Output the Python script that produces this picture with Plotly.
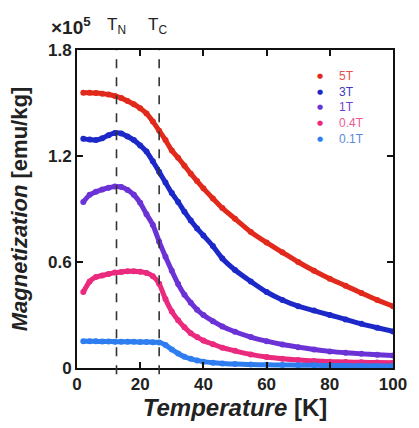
import plotly.graph_objects as go

temps = [2, 4, 6, 8, 10, 12, 14, 16, 18, 20, 22, 24, 26, 28, 30, 32, 34, 36, 38, 40,
         43, 46, 50, 55, 60, 65, 70, 75, 80, 85, 90, 95, 100]

m_5T = [1.558, 1.558, 1.556, 1.553, 1.548, 1.540, 1.528, 1.512, 1.493, 1.470, 1.440,
        1.395, 1.343, 1.290, 1.231, 1.190, 1.145, 1.100, 1.058, 1.017,
        0.960, 0.905, 0.845, 0.770, 0.710, 0.655, 0.600, 0.550, 0.505, 0.465, 0.425, 0.385, 0.350]
m_3T = [1.297, 1.293, 1.290, 1.300, 1.318, 1.330, 1.328, 1.310, 1.290, 1.260, 1.225,
        1.170, 1.110, 1.050, 0.990, 0.940, 0.885, 0.835, 0.790, 0.750,
        0.690, 0.620, 0.555, 0.490, 0.430, 0.385, 0.350, 0.325, 0.300, 0.275, 0.250, 0.228, 0.207]
m_1T = [0.940, 0.980, 0.998, 1.010, 1.020, 1.027, 1.025, 1.008, 0.980, 0.935, 0.870,
        0.810, 0.715, 0.630, 0.550, 0.475, 0.415, 0.370, 0.330, 0.300,
        0.265, 0.235, 0.205, 0.175, 0.152, 0.133, 0.118, 0.105, 0.094, 0.086, 0.080, 0.075, 0.071]
m_04T = [0.430, 0.490, 0.515, 0.524, 0.532, 0.540, 0.544, 0.547, 0.548, 0.545, 0.538,
         0.520, 0.477, 0.390, 0.320, 0.270, 0.230, 0.197, 0.175, 0.155,
         0.135, 0.115, 0.097, 0.077, 0.062, 0.052, 0.045, 0.040, 0.036, 0.034, 0.032, 0.031, 0.030]
m_01T = [0.151, 0.152, 0.151, 0.150, 0.150, 0.149, 0.149, 0.148, 0.148, 0.147, 0.147,
         0.146, 0.145, 0.130, 0.105, 0.082, 0.064, 0.052, 0.043, 0.036,
         0.030, 0.026, 0.022, 0.020, 0.018, 0.017, 0.016, 0.015, 0.014, 0.013, 0.013, 0.012, 0.012]

series_names = ["5T", "3T", "1T", "0.4T", "0.1T"]
series_values = [m_5T, m_3T, m_1T, m_04T, m_01T]
colors = ["#e12a1c", "#1c28c8", "#6b32d6", "#ea2a7e", "#2f7ef0"]
label_colors = ["#e65050", "#3a3ab8", "#6e40d0", "#ec5a94", "#5a8ae0"]

T_N = 12.5
T_C = 26

FONT = "Arial, Liberation Sans, sans-serif"

fig = go.Figure()

for name, vals, c in zip(series_names, series_values, colors):
    fig.add_trace(go.Scatter(
        x=temps, y=vals, mode="lines+markers", name=name,
        line=dict(color=c, width=5, shape="spline", smoothing=0.6),
        marker=dict(color=c, size=6),
        showlegend=False, hoverinfo="skip"))

# legend drawn as text (dot + coloured label), rows 16 px apart
legend_top = 0.919
legend_step = 0.0497
for i, (name, c, lc) in enumerate(zip(series_names, colors, label_colors)):
    yy = legend_top - i * legend_step
    fig.add_annotation(x=0.768, y=yy, xref="paper", yref="paper", xanchor="center", yanchor="middle",
                       text="●", showarrow=False, font=dict(family="DejaVu Sans", size=7, color=c))
    fig.add_annotation(x=0.822, y=yy, xref="paper", yref="paper", xanchor="left", yanchor="middle",
                       text=name, showarrow=False, font=dict(family=FONT, size=12, color=lc))

for tv in (T_N, T_C):
    fig.add_shape(type="line", x0=tv, x1=tv, xref="x", y0=-0.02, y1=1.0, yref="paper",
                  line=dict(color="#333333", width=1.6, dash="dash"))

fig.add_annotation(x=0.05, y=1.03, xref="paper", yref="paper", xanchor="right", yanchor="bottom",
                   text="<b>×10<sup>5</sup></b>", showarrow=False,
                   font=dict(family=FONT, size=19, color="#222"))
fig.add_annotation(x=T_N, y=1.035, xref="x", yref="paper", xanchor="center", yanchor="bottom",
                   text="T<sub>N</sub>", showarrow=False,
                   font=dict(family=FONT, size=17, color="#222"))
fig.add_annotation(x=T_C - 0.5, y=1.035, xref="x", yref="paper", xanchor="center", yanchor="bottom",
                   text="T<sub>C</sub>", showarrow=False,
                   font=dict(family=FONT, size=17, color="#222"))

axis_common = dict(showline=True, linecolor="#111", linewidth=2, mirror="ticks",
                   ticks="inside", ticklen=6, tickwidth=1.5, tickcolor="#111",
                   showgrid=False, zeroline=False,
                   tickfont=dict(family=FONT, size=17, color="#222"))

fig.update_xaxes(range=[0, 100], tickvals=[0, 20, 40, 60, 80, 100],
                 ticktext=["<b>0</b>", "<b>20</b>", "<b>40</b>", "<b>60</b>", "<b>80</b>", "<b>100</b>"],
                 title=dict(text="<b><i>Temperature</i> [K]</b>", standoff=5,
                            font=dict(family=FONT, size=24, color="#222")),
                 **axis_common)
fig.update_yaxes(range=[0, 1.8], tickvals=[0, 0.6, 1.2, 1.8],
                 ticktext=["<b>0</b>", "<b>0.6</b>", "<b>1.2</b>", "<b>1.8</b>"],
                 title=dict(text="<b><i>Magnetization</i> [emu/kg]</b>", standoff=14,
                            font=dict(family=FONT, size=22, color="#222")),
                 **axis_common)

fig.update_layout(
    width=419, height=428,
    margin=dict(l=77, r=19, t=50, b=56),
    paper_bgcolor="white", plot_bgcolor="white",
    showlegend=False,
)

fig.write_html("out.html", config={"displayModeBar": False},
               post_script="document.body.style.margin='0';")
